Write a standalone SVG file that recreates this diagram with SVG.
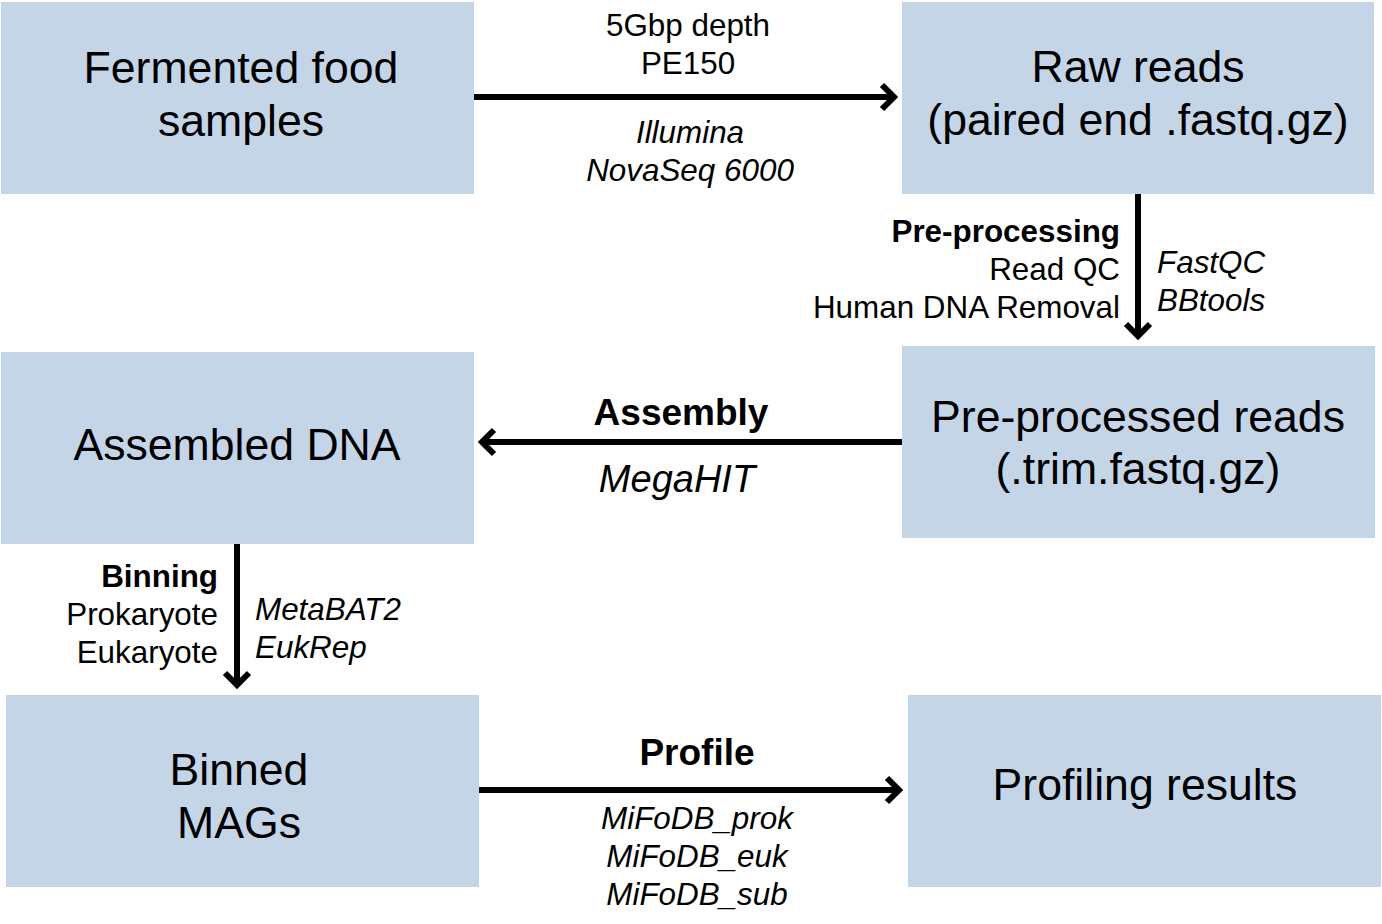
<svg xmlns="http://www.w3.org/2000/svg" width="1382" height="924" viewBox="0 0 1382 924">
<style>
.box{fill:#c5d5e8;}
.big{font-family:"Liberation Sans",Arial,sans-serif;font-size:44.6px;fill:#000;text-anchor:middle;}
.lbl{font-family:"Liberation Sans",Arial,sans-serif;font-size:31.4px;fill:#000;}
.it{font-style:italic;}
.b{font-weight:bold;}
.mid{text-anchor:middle;}
.end{text-anchor:end;}
.hd{font-family:"Liberation Sans",Arial,sans-serif;font-size:37px;font-weight:bold;fill:#000;text-anchor:middle;}
.hi{font-family:"Liberation Sans",Arial,sans-serif;font-size:38px;font-style:italic;fill:#000;text-anchor:middle;}
.ln{stroke:#000;stroke-width:6;fill:none;}
.hd2{stroke:#000;stroke-width:6;fill:none;stroke-linejoin:miter;}
</style>
<rect width="1382" height="924" fill="#fff"/>
<g id="fermented">
<rect class="box" x="1" y="2" width="473" height="192"/>
<text class="big" x="241" y="83">Fermented food</text>
<text class="big" x="241" y="136">samples</text>
</g>
<g id="raw">
<rect class="box" x="902" y="2" width="472" height="192"/>
<text class="big" x="1138" y="82">Raw reads</text>
<text class="big" x="1138" y="135">(paired end .fastq.gz)</text>
</g>
<g id="preprocessed">
<rect class="box" x="902" y="346" width="473" height="192"/>
<text class="big" x="1138" y="432">Pre-processed reads</text>
<text class="big" x="1138" y="484">(.trim.fastq.gz)</text>
</g>
<g id="assembled">
<rect class="box" x="1" y="352" width="473" height="192"/>
<text class="big" x="237" y="460">Assembled DNA</text>
</g>
<g id="binned">
<rect class="box" x="6" y="695" width="473" height="192"/>
<text class="big" x="239" y="785">Binned</text>
<text class="big" x="239" y="838">MAGs</text>
</g>
<g id="profiling">
<rect class="box" x="908" y="695" width="473" height="192"/>
<text class="big" x="1145" y="800">Profiling results</text>
</g>
<g id="connectors">
<line class="ln" x1="474" y1="97" x2="894" y2="97"/>
<polyline class="hd2" points="882,85 894,97 882,109"/>
<line class="ln" x1="1138" y1="194" x2="1138" y2="336"/>
<polyline class="hd2" points="1126,324 1138,336 1150,324"/>
<line class="ln" x1="902" y1="442" x2="482" y2="442"/>
<polyline class="hd2" points="494,430 482,442 494,454"/>
<line class="ln" x1="237" y1="544" x2="237" y2="685"/>
<polyline class="hd2" points="225,673 237,685 249,673"/>
<line class="ln" x1="479" y1="790" x2="899" y2="790"/>
<polyline class="hd2" points="887,778 899,790 887,802"/>
</g>
<g id="labels">
<text class="lbl mid" x="688" y="36">5Gbp depth</text>
<text class="lbl mid" x="688" y="74">PE150</text>
<text class="lbl mid it" x="690" y="143">Illumina</text>
<text class="lbl mid it" x="690" y="181">NovaSeq 6000</text>
<text class="lbl end b" x="1120" y="242">Pre-processing</text>
<text class="lbl end" x="1120" y="280">Read QC</text>
<text class="lbl end" x="1120" y="318">Human DNA Removal</text>
<text class="lbl it" x="1157" y="273">FastQC</text>
<text class="lbl it" x="1157" y="311">BBtools</text>
<text class="hd" x="681" y="425">Assembly</text>
<text class="hi" x="677" y="492">MegaHIT</text>
<text class="lbl end b" x="218" y="587">Binning</text>
<text class="lbl end" x="218" y="625">Prokaryote</text>
<text class="lbl end" x="218" y="663">Eukaryote</text>
<text class="lbl it" x="255" y="620">MetaBAT2</text>
<text class="lbl it" x="255" y="658">EukRep</text>
<text class="hd" x="697" y="765">Profile</text>
<text class="lbl mid it" x="697" y="829">MiFoDB_prok</text>
<text class="lbl mid it" x="697" y="867">MiFoDB_euk</text>
<text class="lbl mid it" x="697" y="905">MiFoDB_sub</text>
</g>
</svg>
